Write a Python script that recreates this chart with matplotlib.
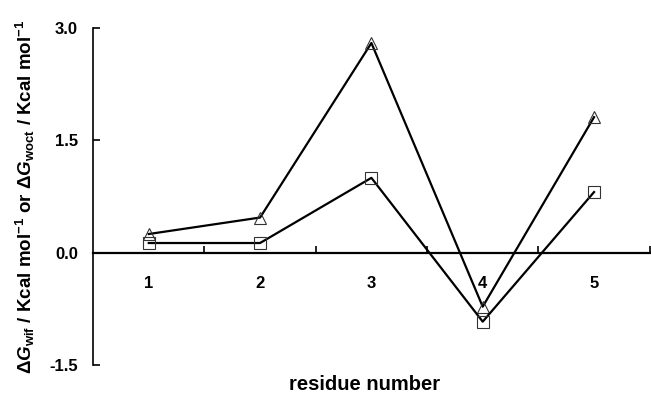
import numpy as np
import matplotlib.pyplot as plt

residues = [1, 2, 3, 4, 5]
dg_wif = [0.25, 0.47, 2.80, -0.72, 1.81]
dg_woct = [0.13, 0.13, 1.00, -0.92, 0.81]
y_ticks = [-1.5, 0.0, 1.5, 3.0]

plt.rcParams['font.family'] = 'Liberation Sans'
plt.rcParams['font.weight'] = 'bold'
plt.rcParams['axes.unicode_minus'] = False
plt.rcParams['mathtext.fontset'] = 'custom'
plt.rcParams['mathtext.rm'] = 'Liberation Sans:bold'
plt.rcParams['mathtext.it'] = 'Liberation Sans:bold:italic'
plt.rcParams['mathtext.bf'] = 'Liberation Sans:bold'

fig = plt.figure(figsize=(6.51, 4.03), dpi=100)
ax = fig.add_axes([0.143, 0.094, 0.855, 0.8365])

ax.plot(residues, dg_wif, color='black', lw=1.6, marker='^', ms=9,
        mfc='none', mec='#333333', mew=0.8)
ax.plot(residues, dg_woct, color='black', lw=1.6, marker='s', ms=9,
        mfc='none', mec='#333333', mew=0.8)

ax.set_xlim(0.5, 5.5)
ax.set_ylim(-1.5, 3.0)

ax.spines['top'].set_visible(False)
ax.spines['right'].set_visible(False)
ax.spines['bottom'].set_position(('data', 0))
ax.spines['bottom'].set_linewidth(1.6)
ax.spines['left'].set_linewidth(1.2)

# category labels on minor ticks, separators on major ticks
ax.set_xticks([1.5, 2.5, 3.5, 4.5, 5.5])
ax.set_xticklabels([])
ax.tick_params(axis='x', which='major', direction='in', length=5, width=1.2)
ax.set_xticks(residues, minor=True)
ax.set_xticklabels([str(r) for r in residues], minor=True)
ax.tick_params(axis='x', which='minor', length=0, pad=17, labelsize=12)

ax.set_yticks(y_ticks)
ax.set_yticklabels(['%.1f' % v for v in y_ticks])
ax.tick_params(axis='y', direction='in', length=5, width=1.2, pad=11,
               labelsize=12)

ax.set_ylabel(r'$\Delta\mathit{G}_{\mathrm{wif}}$ / Kcal mol$^{-1}$ or '
              r'$\Delta\mathit{G}_{\mathrm{woct}}$ / Kcal mol$^{-1}$',
              fontsize=13.5, fontweight='bold', labelpad=9)
fig.text(0.56, 0.045, 'residue number', ha='center', va='center',
         fontsize=14.5, fontweight='bold')

fig.savefig('out.png', dpi=100)
